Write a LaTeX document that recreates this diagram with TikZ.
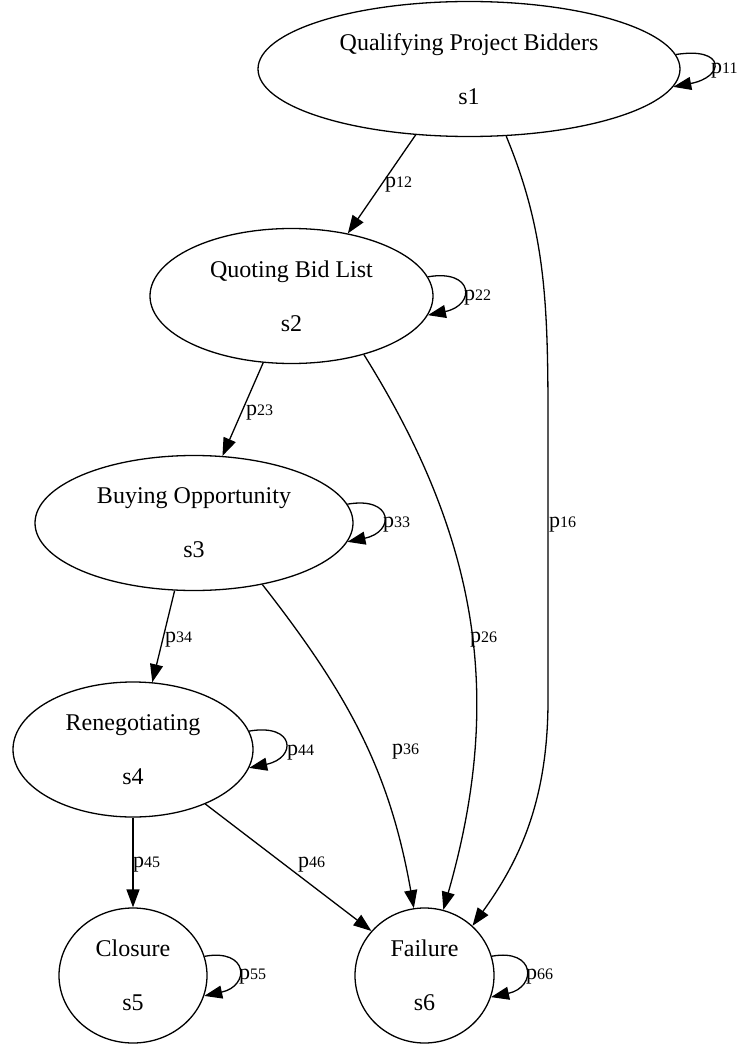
\documentclass[tikz,border=0pt]{standalone}
\usepackage{fontspec}
\setmainfont{Liberation Serif}
\usetikzlibrary{shapes.geometric,arrows.meta}
\newcommand{\pl}[1]{p{\fontsize{16}{16}\selectfont #1}}

\begin{document}
\begin{tikzpicture}[x=1pt, y=1pt,
  state/.style={ellipse, draw, line width=1.3pt, inner sep=0pt, minimum height=135pt, align=center, font=\fontsize{24}{54}\selectfont},
  lbl/.style={anchor=west, inner sep=0pt, font=\fontsize{22}{22}\selectfont}]
  \useasboundingbox (0,0) rectangle (746,-1048);
  \node[state, minimum width=422pt] (s1) at (469,-69) {Qualifying Project Bidders\\s1};
  \node[state, minimum width=283pt] (s2) at (291.5,-296) {Quoting Bid List\\s2};
  \node[state, minimum width=318pt] (s3) at (194,-523) {Buying Opportunity\\s3};
  \node[state, minimum width=240pt] (s4) at (133,-749.5) {Renegotiating\\s4};
  \node[state, minimum width=148pt] (s5) at (133,-975.5) {Closure\\s5};
  \node[state, minimum width=139pt] (s6) at (424.5,-975.5) {Failure\\s6};
  \begin{scope}[-{Triangle[length=18pt,width=13pt]}, line width=1.3pt]
    \draw (s1.4.5) .. controls +(50,8) and +(52,10) .. (s1.-5);
    \draw (s1.231) -- (s2.48);
    \draw (s1.299) .. controls (545,-230) and (548,-300) .. (548,-420) -- (548,-700) .. controls (548,-800) and (520,-860) .. (s6.46);
    \draw (s2.8) .. controls +(46,8) and +(48,10) .. (s2.-8);
    \draw (s2.247) -- (s3.67);
    \draw (s2.-39) to[out=-58, in=74] (s6.74);
    \draw (s3.7) .. controls +(46,8) and +(48,10) .. (s3.-7);
    \draw (s3.254) -- (s4.74);
    \draw (s3.-42) to[out=-52, in=100] (s6.99);
    \draw (s4.9.5) .. controls +(46,8) and +(48,10) .. (s4.-9.5);
    \draw (s4.south) -- (s5.north);
    \draw (s4.-37) -- (s6.140);
    \draw (s5.15) .. controls +(44,8) and +(46,10) .. (s5.-16);
    \draw (s6.16) .. controls +(44,8) and +(46,10) .. (s6.-18);
  \end{scope}
  \node[lbl] (l11) at (711,-71) {\pl{11}};
  \node[lbl] (l12) at (385,-185) {\pl{12}};
  \node[lbl] (l16) at (549,-525) {\pl{16}};
  \node[lbl] (l22) at (464,-298) {\pl{22}};
  \node[lbl] (l23) at (246,-413) {\pl{23}};
  \node[lbl] (l26) at (470,-640) {\pl{26}};
  \node[lbl] (l33) at (383,-525) {\pl{33}};
  \node[lbl] (l34) at (165,-640) {\pl{34}};
  \node[lbl] (l36) at (392,-752) {\pl{36}};
  \node[lbl] (l44) at (287,-753) {\pl{44}};
  \node[lbl] (l45) at (133,-865) {\pl{45}};
  \node[lbl] (l46) at (298,-865) {\pl{46}};
  \node[lbl] (l55) at (239,-977) {\pl{55}};
  \node[lbl] (l66) at (526,-977) {\pl{66}};
\end{tikzpicture}
\end{document}
